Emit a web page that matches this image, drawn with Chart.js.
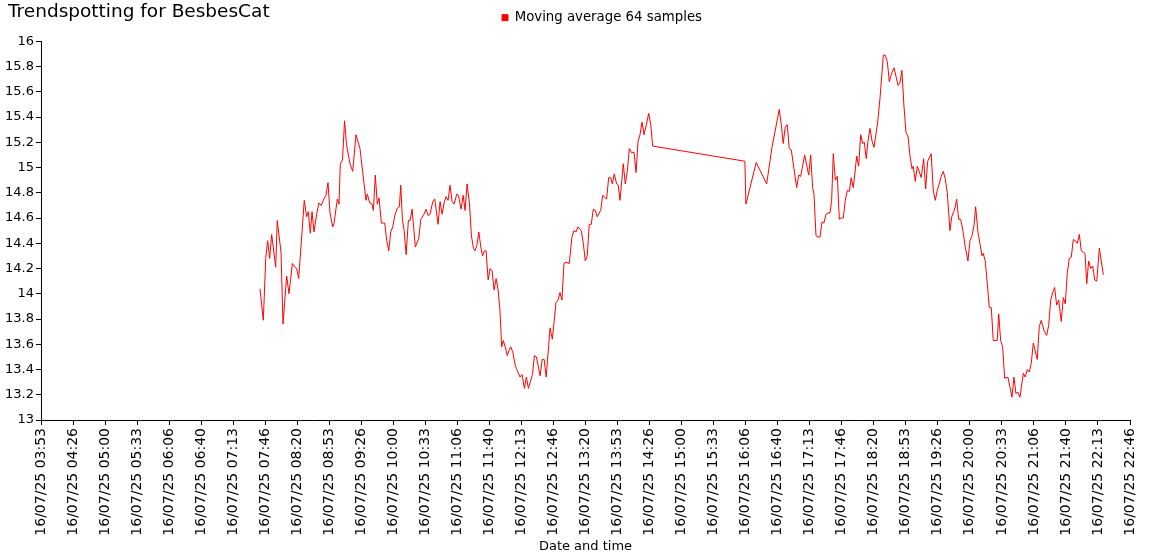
<!DOCTYPE html>
<html>
<head>
<meta charset="utf-8">
<title>Trendspotting for BesbesCat</title>
<script src="https://cdn.jsdelivr.net/npm/chart.js@4.4.1/dist/chart.umd.min.js"></script>
<style>
  html, body { margin: 0; padding: 0; background: #fff; }
  #wrap { position: relative; width: 1150px; height: 560px; }
  #title { position: absolute; left: 8px; top: 0; font: 18.5px "DejaVu Sans", Verdana, sans-serif; color: #000; white-space: nowrap; }
  canvas { display: block; }
</style>
</head>
<body>
<div id="wrap">
  <canvas id="chart" width="1150" height="560"></canvas>
  <div id="title">Trendspotting for BesbesCat</div>
</div>
<script>
// ── data ─────────────────────────────────────────────────────────────────
const seriesLabel = 'Moving average 64 samples';
const xTitle = 'Date and time';

// sample times, minutes after midnight on 16/07/25
const times = [
  460.8, 464.3, 466.8, 468.8, 470.9, 473.0, 477.2, 478.8, 482.7, 484.8,
  488.6, 491.0, 494.5, 497.3, 499.0, 501.1, 506.9, 509.4, 511.1, 513.2,
  515.0, 517.0, 519.8, 522.2, 524.6, 526.7, 529.5, 531.6, 533.7, 536.5,
  537.9, 541.3, 543.1, 544.4, 546.7, 548.8, 550.9, 554.5, 557.3, 560.7,
  564.9, 571.1, 572.5, 575.0, 577.4, 578.8, 580.8, 582.9, 584.7, 587.1,
  590.6, 592.7, 594.8, 596.9, 599.0, 601.4, 603.8, 605.9, 607.3, 609.0,
  610.8, 612.9, 615.2, 617.0, 619.1, 622.5, 626.1, 628.1, 630.8, 633.7,
  635.7, 637.8, 640.6, 642.7, 646.1, 648.2, 650.3, 652.4, 654.4, 656.5,
  658.6, 660.7, 662.8, 665.6, 667.3, 670.1, 672.2, 674.2, 676.3, 678.7,
  680.8, 682.9, 684.6, 686.4, 688.5, 690.6, 692.3, 694.3, 696.1, 698.2,
  700.3, 702.4, 704.4, 706.5, 708.6, 710.5, 712.3, 713.9, 716.0, 718.1,
  719.9, 721.7, 723.8, 726.5, 728.6, 731.4, 733.5, 735.9, 738.0, 740.1,
  744.3, 746.4, 748.4, 752.3, 754.4, 756.5, 758.6, 762.6, 765.0, 768.8,
  770.9, 772.9, 775.0, 777.1, 779.2, 782.6, 785.4, 787.5, 789.6, 791.7,
  795.1, 797.2, 799.3, 801.3, 803.4, 805.5, 807.6, 809.7, 811.7, 815.3,
  817.4, 821.5, 823.6, 825.7, 827.4, 829.4, 831.9, 833.6, 835.4, 838.8,
  840.9, 843.0, 845.1, 847.2, 850.0, 852.1, 854.2, 856.2, 858.3, 860.4,
  862.5, 865.3, 867.4, 869.4,
  965.3, 966.4, 977.1, 988.0, 993.5, 1001.1,
  1003.2, 1005.2, 1007.3, 1009.4, 1011.5, 1013.6, 1019.2, 1021.3, 1023.4, 1027.5,
  1031.7, 1033.8, 1035.8, 1037.2, 1039.3, 1041.4, 1043.5, 1045.6, 1047.6, 1049.7,
  1051.8, 1053.9, 1055.6, 1057.3, 1059.4, 1061.5, 1063.6, 1065.6, 1067.7, 1069.8,
  1071.9, 1074.0, 1076.0, 1078.1, 1081.7, 1083.7, 1085.8, 1087.9, 1089.6, 1091.6,
  1093.4, 1095.5, 1097.6, 1099.7, 1103.5, 1105.9, 1109.4, 1111.4, 1113.5, 1115.6,
  1117.7, 1120.5, 1124.7, 1126.7, 1128.7, 1130.8, 1132.9, 1135.0, 1137.1, 1139.2,
  1140.5, 1142.6, 1144.7, 1147.5, 1148.8, 1151.3, 1153.4, 1155.5, 1159.2, 1161.3,
  1163.4, 1165.5, 1167.5, 1169.6, 1171.7, 1173.8, 1175.9, 1178.7, 1180.5, 1182.5,
  1183.9, 1185.7, 1187.7, 1189.8, 1191.9, 1194.6, 1197.4, 1199.5, 1201.6, 1203.7,
  1205.4, 1207.8, 1209.9, 1212.0, 1213.3, 1215.4, 1217.5, 1219.6, 1221.7, 1223.7,
  1227.9, 1229.4, 1231.4, 1233.5, 1235.6, 1239.0, 1241.1, 1243.2, 1245.3, 1247.3,
  1249.4, 1251.5, 1255.0, 1257.0, 1259.1, 1261.2, 1263.3, 1265.4, 1269.5, 1271.6,
  1273.7, 1276.5, 1279.3, 1281.4, 1283.5, 1285.6, 1287.6, 1289.7, 1291.8, 1294.5,
  1296.6, 1298.7, 1300.7, 1302.8, 1304.9, 1307.0, 1309.1, 1311.2, 1313.3, 1315.3,
  1317.4, 1319.2, 1321.0, 1323.0, 1325.1, 1327.2, 1329.3, 1331.4, 1334.1, 1338.3,
];

const values = [
  14.04, 13.79, 14.28, 14.42, 14.28, 14.47, 14.21, 14.58, 14.33, 13.76,
  14.14, 14.00, 14.24, 14.21, 14.20, 14.12, 14.74, 14.61, 14.65, 14.48,
  14.65, 14.49, 14.63, 14.72, 14.70, 14.74, 14.78, 14.88, 14.64, 14.53,
  14.56, 14.75, 14.71, 15.03, 15.06, 15.37, 15.18, 15.03, 14.97, 15.26,
  15.15, 14.74, 14.79, 14.72, 14.71, 14.66, 14.94, 14.71, 14.76, 14.56,
  14.56, 14.42, 14.34, 14.49, 14.53, 14.63, 14.68, 14.69, 14.86, 14.59,
  14.50, 14.31, 14.58, 14.58, 14.67, 14.37, 14.44, 14.59, 14.62, 14.67,
  14.62, 14.63, 14.73, 14.75, 14.55, 14.73, 14.63, 14.72, 14.77, 14.74,
  14.86, 14.73, 14.71, 14.79, 14.78, 14.67, 14.78, 14.66, 14.87, 14.72,
  14.46, 14.36, 14.34, 14.38, 14.49, 14.37, 14.30, 14.34, 14.34, 14.11,
  14.20, 14.18, 14.03, 14.12, 14.03, 13.87, 13.58, 13.63, 13.58, 13.51,
  13.55, 13.58, 13.54, 13.43, 13.39, 13.34, 13.36, 13.25, 13.34, 13.25,
  13.36, 13.51, 13.50, 13.35, 13.48, 13.48, 13.34, 13.73, 13.64, 13.93,
  13.95, 14.01, 13.95, 14.24, 14.25, 14.24, 14.45, 14.50, 14.49, 14.53,
  14.50, 14.40, 14.26, 14.30, 14.55, 14.55, 14.67, 14.66, 14.61, 14.66,
  14.78, 14.75, 14.92, 14.92, 14.87, 14.95, 14.87, 14.86, 14.74, 15.03,
  14.87, 14.97, 15.15, 15.12, 15.12, 14.96, 15.21, 15.26, 15.36, 15.26,
  15.33, 15.43, 15.34, 15.17,
  15.05, 14.71, 15.04, 14.87, 15.16, 15.46,
  15.34, 15.19, 15.32, 15.34, 15.15, 15.14, 14.84, 14.94, 14.93, 15.10,
  14.94, 15.10, 14.84, 14.79, 14.46, 14.45, 14.45, 14.57, 14.56, 14.63,
  14.64, 14.64, 14.74, 15.11, 14.90, 14.93, 14.59, 14.60, 14.60, 14.74,
  14.82, 14.81, 14.92, 14.84, 15.09, 15.01, 15.26, 15.19, 15.20, 15.07,
  15.21, 15.31, 15.21, 15.16, 15.36, 15.55, 15.89, 15.89, 15.84, 15.68,
  15.74, 15.79, 15.65, 15.67, 15.77, 15.49, 15.28, 15.25, 15.09, 14.99,
  15.01, 14.89, 15.01, 14.95, 14.92, 15.07, 14.83, 15.05, 15.11, 14.82,
  14.74, 14.82, 14.87, 14.93, 14.97, 14.91, 14.80, 14.50, 14.61, 14.65,
  14.68, 14.75, 14.59, 14.59, 14.51, 14.37, 14.26, 14.42, 14.46, 14.54,
  14.69, 14.49, 14.40, 14.30, 14.32, 14.26, 14.08, 13.89, 13.89, 13.63,
  13.63, 13.84, 13.63, 13.58, 13.33, 13.34, 13.26, 13.18, 13.34, 13.21,
  13.22, 13.18, 13.37, 13.34, 13.40, 13.38, 13.45, 13.61, 13.48, 13.74,
  13.79, 13.71, 13.67, 13.75, 13.95, 14.01, 14.05, 13.91, 13.95, 13.78,
  13.97, 13.92, 14.16, 14.28, 14.29, 14.43, 14.42, 14.40, 14.47, 14.34,
  14.33, 14.32, 14.08, 14.26, 14.20, 14.22, 14.11, 14.10, 14.36, 14.15,
];

const xTickLabels = [
  '16/07/25 03:53', '16/07/25 04:26', '16/07/25 05:00', '16/07/25 05:33',
  '16/07/25 06:06', '16/07/25 06:40', '16/07/25 07:13', '16/07/25 07:46',
  '16/07/25 08:20', '16/07/25 08:53', '16/07/25 09:26', '16/07/25 10:00',
  '16/07/25 10:33', '16/07/25 11:06', '16/07/25 11:40', '16/07/25 12:13',
  '16/07/25 12:46', '16/07/25 13:20', '16/07/25 13:53', '16/07/25 14:26',
  '16/07/25 15:00', '16/07/25 15:33', '16/07/25 16:06', '16/07/25 16:40',
  '16/07/25 17:13', '16/07/25 17:46', '16/07/25 18:20', '16/07/25 18:53',
  '16/07/25 19:26', '16/07/25 20:00', '16/07/25 20:33', '16/07/25 21:06',
  '16/07/25 21:40', '16/07/25 22:13', '16/07/25 22:46',
];

const yMin = 13, yMax = 16, yStep = 0.2;

// ── helpers ──────────────────────────────────────────────────────────────
function labelMinutes(label) {
  const [h, m] = label.split(' ')[1].split(':').map(Number);
  return h * 60 + m;
}

const xMin = labelMinutes(xTickLabels[0]);
const xMax = labelMinutes(xTickLabels[xTickLabels.length - 1]);
const xStep = (xMax - xMin) / (xTickLabels.length - 1);
const points = times.map((t, i) => ({ x: t, y: values[i] }));

const FAMILY = '"DejaVu Sans", Verdana, sans-serif';
const FONT = { family: FAMILY, size: 13 };
const BLACK = '#000';
const RED = '#ff0000';

// the legend sits off-centre and close to the title line in the original
const legendShift = {
  id: 'legendShift',
  afterLayout(chart) {
    const lg = chart.legend;
    lg.left += 37;
    lg.right += 37;
    lg.top -= 7;
    lg.bottom -= 7;
  },
};

// ── chart ────────────────────────────────────────────────────────────────
const ctx = document.getElementById('chart').getContext('2d');
new Chart(ctx, {
  type: 'line',
  data: {
    datasets: [{
      label: seriesLabel,
      data: points,
      borderColor: RED,
      backgroundColor: RED,
      borderWidth: 1,
      borderJoinStyle: 'round',
      pointRadius: 0,
      tension: 0,
      fill: false,
    }],
  },
  options: {
    responsive: false,
    animation: false,
    layout: { padding: { top: 10, right: 20, left: 0, bottom: 0 } },
    plugins: {
      legend: {
        position: 'top',
        labels: { boxWidth: 6, boxHeight: 6, color: BLACK, font: { family: FAMILY, size: 13.3 }, padding: 8 },
      },
      tooltip: { enabled: false },
    },
    scales: {
      x: {
        type: 'linear',
        min: xMin,
        max: xMax,
        afterBuildTicks: axis => {
          axis.ticks = xTickLabels.map((_, i) => ({ value: xMin + i * xStep }));
        },
        afterFit: axis => { axis.height = 140; },
        ticks: {
          color: BLACK,
          font: { family: FAMILY, size: 14 },
          autoSkip: false,
          minRotation: 90,
          maxRotation: 90,
          padding: 3,
          callback: (v, i) => xTickLabels[i],
        },
        grid: { drawOnChartArea: false, color: BLACK, tickLength: 5 },
        border: { color: BLACK },
        title: { display: true, text: xTitle, color: BLACK, font: FONT, padding: { top: 2, bottom: 6 } },
      },
      y: {
        min: yMin,
        max: yMax,
        afterFit: axis => { axis.width = 41; },
        ticks: {
          stepSize: yStep,
          color: BLACK,
          font: FONT,
          padding: 2,
          callback: v => String(Math.round(v * 10) / 10),
        },
        grid: { drawOnChartArea: false, color: BLACK, tickLength: 5 },
        border: { color: BLACK },
      },
    },
  },
  plugins: [legendShift],
});
</script>
</body>
</html>
